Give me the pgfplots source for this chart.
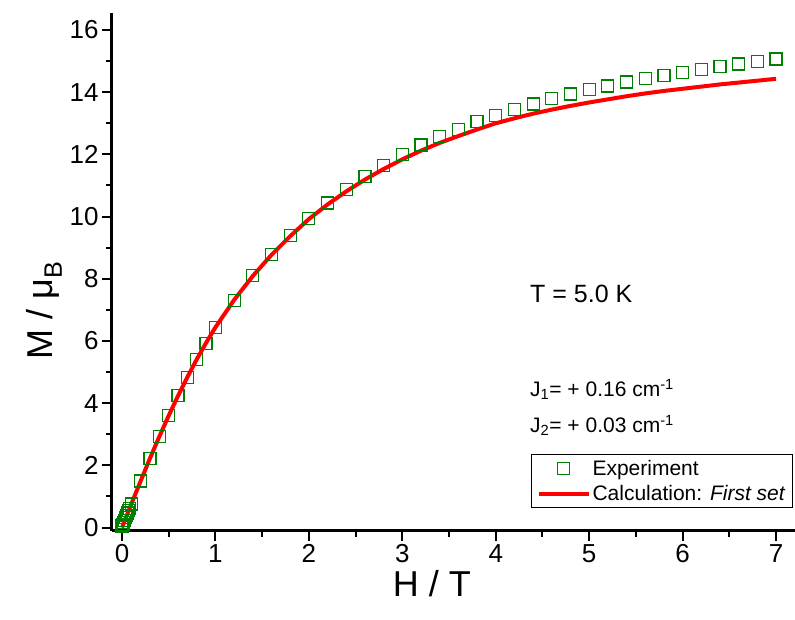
\documentclass[border=0pt]{standalone}
\usepackage{fontspec}
\setmainfont{Liberation Sans}
\usepackage{pgfplots}
\pgfplotsset{compat=1.18}
\definecolor{expgreen}{RGB}{0,128,0}
\definecolor{calcred}{RGB}{255,0,0}
\pgfplotsset{
  legmark/.style={legend image code/.code={\draw[mark repeat=2,mark phase=2,##1] plot coordinates {(0pt,0pt) (25pt,0pt) (50pt,0pt)};}},
  legline/.style={legend image code/.code={\draw[##1] (0pt,0pt) -- (50pt,0pt);}},
}
\begin{document}
\begin{tikzpicture}[x=1pt,y=1pt]
\useasboundingbox (-112,-88.3) rectangle (683,530.7);
\begin{axis}[
  at={(0,0)}, anchor=south west,
  scale only axis, width=683pt, height=517.8pt,
  xmin=-0.107, xmax=7.203, ymin=-0.1, ymax=16.55,
  clip=false,
  axis x line*=bottom, axis y line*=left,
  axis line style={line width=3pt, black},
  xtick={0,1,...,7}, ytick={0,2,...,16},
  minor x tick num=1, minor y tick num=1,
  tick align=outside,
  major tick length=10pt, minor tick length=6pt,
  tick style={black, line width=2pt},
  tick label style={font=\fontsize{26}{30}\selectfont},
  /pgf/number format/assume math mode=true,
  legend style={at={(0.997,0.044)}, anchor=south east, draw=black, line width=1pt,
    font=\fontsize{21}{25}\selectfont, inner xsep=5pt, inner ysep=3pt,
    row sep=5pt, cells={anchor=west}},
]
\addplot[expgreen, only marks, mark=square, mark size=6pt,
  mark options={draw=expgreen, line width=1.2pt}, legmark]
coordinates {
(0.00,0.05) (0.01,0.09) (0.02,0.17) (0.03,0.24) (0.04,0.32) (0.05,0.40) (0.06,0.47) (0.07,0.55) (0.08,0.62)
(0.10,0.76) (0.2,1.50) (0.3,2.23) (0.4,2.93) (0.5,3.61) (0.6,4.24) (0.7,4.83) (0.8,5.41) (0.9,5.93) (1.0,6.44)
(1.2,7.31) (1.4,8.10) (1.6,8.78) (1.8,9.40) (2.0,9.95) (2.2,10.44) (2.4,10.88) (2.6,11.28) (2.8,11.64) (3.0,11.99)
(3.2,12.30) (3.4,12.58) (3.6,12.81) (3.8,13.05) (4.0,13.25) (4.2,13.45) (4.4,13.62) (4.6,13.79) (4.8,13.94) (5.0,14.09)
(5.2,14.20) (5.4,14.33) (5.6,14.43) (5.8,14.53) (6.0,14.64) (6.2,14.74) (6.4,14.82) (6.6,14.91) (6.8,14.98) (7.0,15.07)
};
\addlegendentry{Experiment}
\addplot[calcred, line width=4pt, no marks, legline]
coordinates {
(0,0) (0.1,0.76) (0.2,1.50) (0.3,2.23) (0.4,2.93) (0.5,3.60) (0.6,4.24) (0.7,4.84) (0.8,5.41) (0.9,5.94) (1.0,6.44)
(1.2,7.32) (1.4,8.09) (1.6,8.77) (1.8,9.37) (2.0,9.92) (2.2,10.39) (2.4,10.81) (2.6,11.19) (2.8,11.53) (3.0,11.84)
(3.2,12.12) (3.4,12.37) (3.6,12.59) (3.8,12.80) (4.0,13.00) (4.2,13.16) (4.4,13.31) (4.6,13.44) (4.8,13.56) (5.0,13.67)
(5.2,13.77) (5.4,13.87) (5.6,13.96) (5.8,14.04) (6.0,14.11) (6.2,14.18) (6.4,14.25) (6.6,14.31) (6.8,14.37) (7.0,14.43)
};
\addlegendentry{Calculation: \textit{First set}}
\node[anchor=base west, inner sep=0pt, font=\fontsize{25}{30}\selectfont] at (axis cs:4.367,7.24) {T = 5.0 K};
\node[anchor=base west, inner sep=0pt, font=\fontsize{21}{25}\selectfont] at (axis cs:4.367,4.21) {J\textsubscript{1}= + 0.16 cm\textsuperscript{-1}};
\node[anchor=base west, inner sep=0pt, font=\fontsize{21}{25}\selectfont] at (axis cs:4.367,3.05) {J\textsubscript{2}= + 0.03 cm\textsuperscript{-1}};
\node[anchor=base, inner sep=0pt, font=\fontsize{36}{42}\selectfont] at (axis description cs:0.4685,-0.128) {H / T};
\node[anchor=base, rotate=90, inner sep=0pt, font=\fontsize{36}{42}\selectfont] at (axis description cs:-0.0864,0.426) {M / μ\textsubscript{B}};
\end{axis}
\end{tikzpicture}
\end{document}
